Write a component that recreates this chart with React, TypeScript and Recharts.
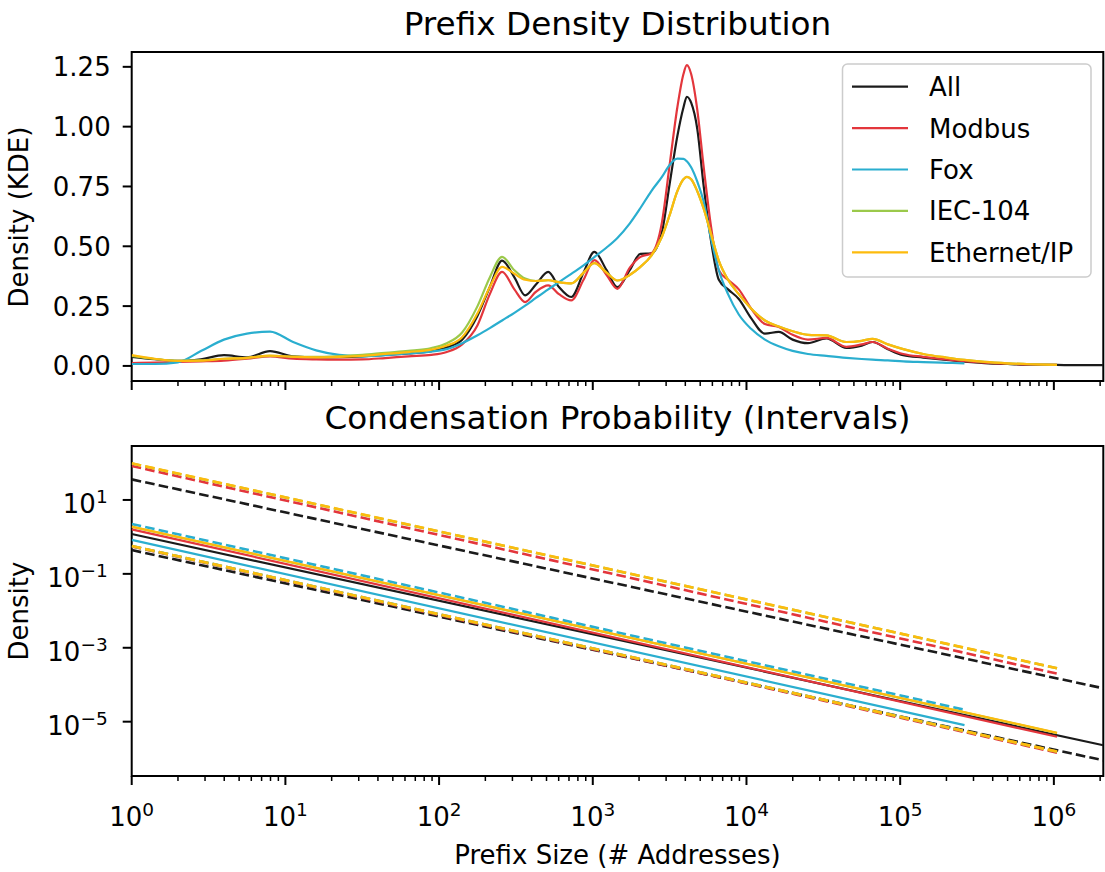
import React from "react";
import { LineChart, Line, XAxis, YAxis, ReferenceArea } from "recharts";

const FONT = "'DejaVu Sans', sans-serif";

const seriesNames = ["All", "Modbus", "Fox", "IEC-104", "Ethernet/IP"];
const seriesKeys = ["all", "modbus", "fox", "iec", "enip"];
const seriesColors = ["#1b1b1b", "#e3363c", "#2aaecf", "#9bc94b", "#fdbb0d"];

const X_MAX = 2097152;
const majorX = [1, 10, 100, 1000, 10000, 100000, 1000000];
const minorMult = [2, 3, 4, 5, 6, 7, 8, 9];
const kdeTicks = [0, 0.25, 0.5, 0.75, 1, 1.25];
const probTicks = [10, 0.1, 0.001, 0.00001];
const probTickExp = ["1", "\u22121", "\u22123", "\u22125"];

// KDE sample points, log10(prefix size)
const kdeLogX = [
  0, 0.15, 0.3, 0.45, 0.6, 0.75, 0.9, 1.05, 1.2, 1.35, 1.5, 1.65, 1.8, 1.95,
  2.05, 2.15, 2.25, 2.33, 2.41, 2.49, 2.56, 2.63, 2.71, 2.78, 2.86, 2.94,
  3.01, 3.09, 3.16, 3.24, 3.31, 3.38, 3.45, 3.5, 3.55, 3.59, 3.612, 3.64, 3.68, 3.72, 3.77, 3.82, 3.88, 3.95,
  4.03, 4.12, 4.21, 4.3, 4.4, 4.52, 4.65, 4.75, 4.82, 4.92,
  5.02, 5.15, 5.3, 5.418, 5.55, 5.7, 5.85,
  6.02, 6.15, 6.32,
];
const kdeAll = [
  0.038, 0.028, 0.021, 0.028, 0.045, 0.036, 0.062, 0.04, 0.036, 0.037, 0.04, 0.046, 0.052, 0.062,
  0.078, 0.11, 0.21, 0.33, 0.44, 0.37, 0.295, 0.34, 0.393, 0.33, 0.288, 0.39,
  0.477, 0.4, 0.329, 0.4, 0.468, 0.47, 0.56, 0.76, 0.96, 1.08, 1.125, 1.1, 0.99, 0.76, 0.52, 0.36, 0.32, 0.28,
  0.2, 0.135, 0.142, 0.11, 0.095, 0.115, 0.075, 0.085, 0.1, 0.07,
  0.045, 0.035, 0.025, 0.018, 0.012, 0.008, 0.005,
  0.004, 0.003, 0.003,
];
const kdeModbus = [
  0.012, 0.014, 0.017, 0.019, 0.022, 0.03, 0.04, 0.03, 0.027, 0.026, 0.027, 0.033, 0.04, 0.046,
  0.058, 0.09, 0.17, 0.3, 0.393, 0.32, 0.267, 0.31, 0.337, 0.3, 0.274, 0.36,
  0.442, 0.38, 0.322, 0.41, 0.456, 0.47, 0.6, 0.84, 1.08, 1.22, 1.257, 1.22, 1.07, 0.84, 0.58, 0.4, 0.36, 0.32,
  0.24, 0.175, 0.163, 0.13, 0.11, 0.117, 0.08, 0.09, 0.1, 0.072,
  0.05, 0.038, 0.027, 0.02, 0.014, 0.009, 0.006,
  0.004, null, null,
];
const kdeFox = [
  0.008, 0.008, 0.015, 0.062, 0.11, 0.135, 0.143, 0.1, 0.065, 0.046, 0.04, 0.045, 0.052, 0.06,
  0.07, 0.095, 0.128, 0.158, 0.19, 0.222, 0.252, 0.284, 0.32, 0.35, 0.385, 0.42,
  0.455, 0.495, 0.535, 0.595, 0.66, 0.73, 0.79, 0.84, 0.866, 0.865, 0.855, 0.83, 0.77, 0.69, 0.53, 0.4, 0.3, 0.215,
  0.155, 0.11, 0.082, 0.063, 0.05, 0.042, 0.034, 0.029, 0.026, 0.023,
  0.019, 0.016, 0.013, 0.011, null, null, null,
  null, null, null,
];
const kdeIec = [
  0.042, 0.029, 0.021, 0.023, 0.03, 0.034, 0.042, 0.039, 0.038, 0.041, 0.046, 0.055, 0.063, 0.075,
  0.095, 0.14, 0.25, 0.37, 0.456, 0.4, 0.365, 0.355, 0.358, 0.35, 0.345, 0.39,
  0.43, 0.39, 0.357, 0.38, 0.414, 0.46, 0.54, 0.63, 0.73, 0.78, 0.79, 0.78, 0.73, 0.66, 0.55, 0.44, 0.36, 0.3,
  0.24, 0.19, 0.165, 0.145, 0.13, 0.128, 0.1, 0.105, 0.113, 0.09,
  0.07, 0.05, 0.035, 0.025, 0.017, 0.011, 0.007,
  0.004, null, null,
];
const kdeEnip = [
  0.045, 0.03, 0.021, 0.022, 0.03, 0.034, 0.043, 0.038, 0.036, 0.038, 0.042, 0.05, 0.058, 0.068,
  0.085, 0.12, 0.22, 0.33, 0.414, 0.385, 0.36, 0.355, 0.358, 0.35, 0.345, 0.39,
  0.43, 0.39, 0.357, 0.38, 0.414, 0.46, 0.54, 0.63, 0.73, 0.78, 0.79, 0.78, 0.73, 0.66, 0.55, 0.44, 0.36, 0.3,
  0.24, 0.19, 0.165, 0.145, 0.13, 0.128, 0.1, 0.105, 0.113, 0.09,
  0.07, 0.05, 0.035, 0.025, 0.017, 0.011, 0.007,
  0.004, null, null,
];

// condensation probability: fitted line and interval bounds, value at size 1 and at the last size
const probLastX = [2097152, 1048576, 262144, 1048576, 1048576];
const fitFirst = [1.2, 1.6, 0.83, 1.88, 1.9];
const fitLast = [2.3e-6, 3.9e-6, 8.1e-6, 4.95e-6, 5.0e-6];
const upperFirst = [36, 83, 2.24, 97, 98];
const upperLast = [8e-5, 2.0e-4, 2.1e-5, 2.78e-4, 2.8e-4];
const lowerFirst = [0.44, 0.55, 0.57, 0.565, 0.57];
const lowerLast = [9e-7, 1.45e-6, 5.6e-6, 1.54e-6, 1.55e-6];

const xTicks = majorX
  .flatMap((m) => [m, ...minorMult.map((k) => k * m)])
  .filter((v) => v <= X_MAX);

const kdeSeries = [kdeAll, kdeModbus, kdeFox, kdeIec, kdeEnip];
const kdeRows = kdeLogX.map((e, i) => {
  const row: Record<string, number | null> = { x: Math.pow(10, e) };
  seriesKeys.forEach((k, s) => {
    row[k] = kdeSeries[s][i];
  });
  return row;
});

const twoPoint = (first: number, last: number, lastX: number) => [
  { x: 1, y: first },
  { x: lastX, y: last },
];

const KDE_DOMAIN: [number, number] = [-0.063, 1.312];
const PROB_DOMAIN: [number, number] = [Math.pow(10, -6.47), Math.pow(10, 2.46)];

function XTick(props: any) {
  const { x, y, payload, withLabels } = props;
  const e = Math.log10(payload.value);
  const major = Math.abs(e - Math.round(e)) < 1e-6;
  return (
    <g>
      <line x1={x} x2={x} y1={y} y2={y + (major ? 9 : 5)} stroke="#000" strokeWidth={major ? 2 : 1.5} />
      {withLabels && major && (
        <text x={x} y={y + 50} textAnchor="middle" fontSize={26} fill="#000" fontFamily={FONT}>
          10
          <tspan dy={-10} fontSize={18.5}>
            {Math.round(e)}
          </tspan>
        </text>
      )}
    </g>
  );
}

function KdeTick(props: any) {
  const { x, y, payload } = props;
  return (
    <g>
      <line x1={x} x2={x - 9} y1={y} y2={y} stroke="#000" strokeWidth={2} />
      <text x={x - 21} y={y + 9.5} textAnchor="end" fontSize={26} fill="#000" fontFamily={FONT}>
        {payload.value.toFixed(2)}
      </text>
    </g>
  );
}

function ProbTick(props: any) {
  const { x, y, payload } = props;
  const idx = probTicks.indexOf(payload.value);
  return (
    <g>
      <line x1={x} x2={x - 9} y1={y} y2={y} stroke="#000" strokeWidth={2} />
      <text x={x - 24} y={y + 13} textAnchor="end" fontSize={26} fill="#000" fontFamily={FONT}>
        10
        <tspan dy={-10} fontSize={18.5}>
          {probTickExp[idx]}
        </tspan>
      </text>
    </g>
  );
}

export default function App() {
  return (
    <div style={{ position: "absolute", left: 0, top: 0, width: 1105, height: 872, background: "#fff", fontFamily: FONT }}>
      <div style={{ position: "absolute", left: 0, top: 0 }}>
        <LineChart width={1105} height={400} data={kdeRows} margin={{ top: 52, right: 1.7, bottom: 0, left: 0 }}>
          <XAxis
            dataKey="x"
            type="number"
            scale="log"
            domain={[1, X_MAX]}
            allowDataOverflow
            ticks={xTicks}
            interval={0}
            height={19}
            axisLine={false}
            tickLine={false}
            tickSize={0}
            tickMargin={0}
            tick={<XTick withLabels={false} />}
          />
          <YAxis
            type="number"
            domain={KDE_DOMAIN}
            allowDataOverflow
            ticks={kdeTicks}
            interval={0}
            width={131.7}
            axisLine={false}
            tickLine={false}
            tickSize={0}
            tickMargin={0}
            tick={<KdeTick />}
          />
          <ReferenceArea x1={1} x2={X_MAX} y1={KDE_DOMAIN[0]} y2={KDE_DOMAIN[1]} fill="none" stroke="#000" strokeWidth={2} fillOpacity={0} />
          {seriesKeys.map((k, i) => (
            <Line
              key={k}
              dataKey={k}
              type="monotone"
              stroke={seriesColors[i]}
              strokeWidth={2.2}
              dot={false}
              activeDot={false}
              isAnimationActive={false}
            />
          ))}
        </LineChart>
      </div>

      <div style={{ position: "absolute", left: 0, top: 400 }}>
        <LineChart width={1105} height={472} margin={{ top: 46, right: 1.7, bottom: 0, left: 0 }}>
          <XAxis
            dataKey="x"
            type="number"
            scale="log"
            domain={[1, X_MAX]}
            allowDataOverflow
            ticks={xTicks}
            interval={0}
            height={96}
            axisLine={false}
            tickLine={false}
            tickSize={0}
            tickMargin={0}
            tick={<XTick withLabels={true} />}
          />
          <YAxis
            type="number"
            scale="log"
            domain={PROB_DOMAIN}
            allowDataOverflow
            ticks={probTicks}
            interval={0}
            width={131.7}
            axisLine={false}
            tickLine={false}
            tickSize={0}
            tickMargin={0}
            tick={<ProbTick />}
          />
          <ReferenceArea x1={1} x2={X_MAX} y1={PROB_DOMAIN[0]} y2={PROB_DOMAIN[1]} fill="none" stroke="#000" strokeWidth={2} fillOpacity={0} />
          {seriesKeys.flatMap((k, i) => [
            <Line
              key={k + "-fit"}
              data={twoPoint(fitFirst[i], fitLast[i], probLastX[i])}
              dataKey="y"
              type="linear"
              stroke={seriesColors[i]}
              strokeWidth={2.2}
              dot={false}
              activeDot={false}
              isAnimationActive={false}
            />,
            <Line
              key={k + "-upper"}
              data={twoPoint(upperFirst[i], upperLast[i], probLastX[i])}
              dataKey="y"
              type="linear"
              stroke={seriesColors[i]}
              strokeWidth={2.6}
              strokeDasharray="9.6 4.2"
              dot={false}
              activeDot={false}
              isAnimationActive={false}
            />,
            <Line
              key={k + "-lower"}
              data={twoPoint(lowerFirst[i], lowerLast[i], probLastX[i])}
              dataKey="y"
              type="linear"
              stroke={seriesColors[i]}
              strokeWidth={2.6}
              strokeDasharray="9.6 4.2"
              dot={false}
              activeDot={false}
              isAnimationActive={false}
            />,
          ])}
        </LineChart>
      </div>

      <svg width={1105} height={872} style={{ position: "absolute", left: 0, top: 0, pointerEvents: "none" }} fontFamily={FONT}>
        <text x={617.5} y={35} textAnchor="middle" fontSize={32.7} fill="#000">
          Prefix Density Distribution
        </text>
        <text x={617.5} y={429} textAnchor="middle" fontSize={32.7} fill="#000">
          Condensation Probability (Intervals)
        </text>
        <text x={617.5} y={864} textAnchor="middle" fontSize={26} fill="#000">
          Prefix Size (# Addresses)
        </text>
        <text x={28} y={217} textAnchor="middle" fontSize={26} fill="#000" transform="rotate(-90 28 217)">
          Density (KDE)
        </text>
        <text x={28} y={611} textAnchor="middle" fontSize={26} fill="#000" transform="rotate(-90 28 611)">
          Density
        </text>
        <rect x={842.5} y={64} width={248.5} height={213} rx={5} fill="#fff" fillOpacity={0.8} stroke="#cccccc" strokeWidth={1.5} />
        {seriesNames.map((name, i) => {
          const cy = 86.7 + i * 41.4;
          return (
            <g key={name}>
              <line x1={852} x2={908} y1={cy} y2={cy} stroke={seriesColors[i]} strokeWidth={2.2} />
              <text x={929} y={cy + 9.5} fontSize={26} fill="#000">
                {name}
              </text>
            </g>
          );
        })}
      </svg>
    </div>
  );
}
